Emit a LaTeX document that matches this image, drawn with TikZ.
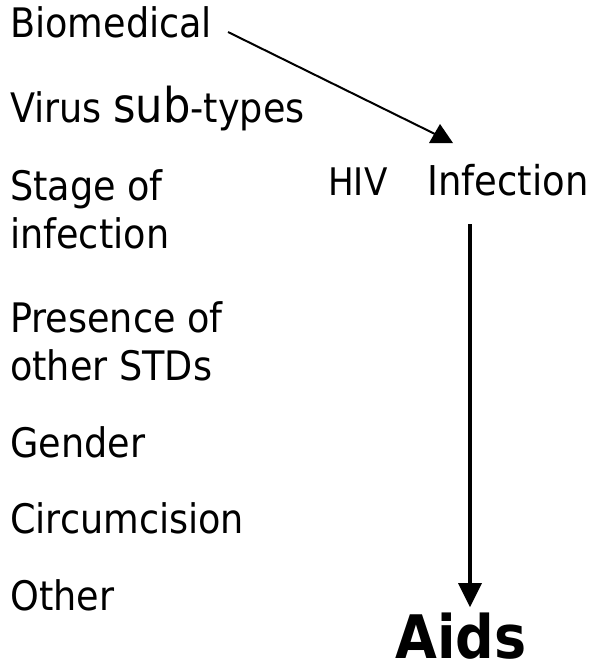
\documentclass[tikz,border=0pt]{standalone}
\usepackage{fontspec}
\setmainfont{DejaVu Sans Condensed}
\begin{document}
\begin{tikzpicture}[x=0.75pt,y=-0.75pt,
  lbl/.style={anchor=base west,inner sep=0pt,align=left,font=\fontsize{30.5}{36}\selectfont},
  conn/.style={line width=1.5pt},
  conn2/.style={line width=2.4pt}]
\useasboundingbox (0,0) rectangle (604,669);
\node[lbl] (bio) at (10,37) {Biomedical};
\node[lbl] (virus) at (10,122) {Virus {\fontsize{36}{36}\selectfont sub}-types};
\node[lbl] (stage) at (10,248) {Stage of\\infection};
\node[lbl] (std) at (10,380) {Presence of\\other STDs};
\node[lbl] (gender) at (10,457) {Gender};
\node[lbl] (circ) at (10,533) {Circumcision};
\node[lbl] (other) at (10,610) {Other};
\node[anchor=base west,inner sep=0pt] (hiv) at (328,195)
  {{\fontsize{28.5}{30}\selectfont HIV}\hspace{30pt}{\fontsize{30.8}{30}\selectfont Infection}};
\node[anchor=base west,inner sep=0pt,font=\bfseries\fontsize{45}{50}\selectfont] (aids) at (395,658) {Aids};
% arrow 1
\coordinate (s1) at (228,32);
\coordinate (e1) at (437,135);
\draw[conn] (s1) -- (e1);
\fill (429,143) -- (453,143) -- (440,124) -- cycle;
% arrow 2
\coordinate (s2) at (470,224);
\coordinate (e2) at (470,590);
\draw[conn2] (s2) -- (e2);
\fill (458,583) -- (482,583) -- (470,607) -- cycle;
\end{tikzpicture}
\end{document}
